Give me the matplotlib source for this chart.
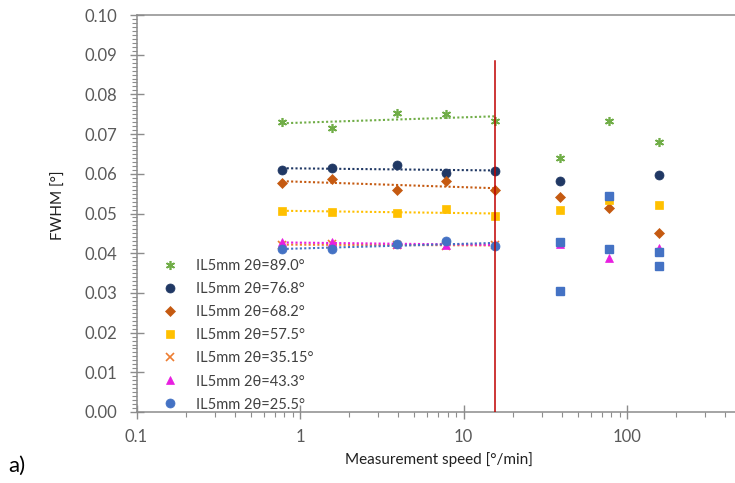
import matplotlib

matplotlib.use("Agg")
import matplotlib.pyplot as plt
import numpy as np
from matplotlib.ticker import FixedLocator, MultipleLocator, NullFormatter

plt.rcParams["font.family"] = ["Lato", "DejaVu Sans"]

# measurement speeds [deg/min]
speed_lo = [0.78, 1.56, 3.9, 7.8, 15.6]
speed_hi = [39, 78, 156]

# FWHM per peak, low speeds (with trend line) and high speeds
fw_890_lo = [0.0730, 0.0715, 0.0753, 0.0751, 0.0732]
fw_890_hi = [0.0641, 0.0732, 0.0681]
fw_768_lo = [0.0610, 0.0614, 0.0621, 0.0603, 0.0608]
fw_768_hi = [0.0581, np.nan, 0.0597]
fw_682_lo = [0.0577, 0.0587, 0.0558, 0.0582, 0.0558]
fw_682_hi = [0.0541, 0.0513, 0.0450]
fw_575_lo = [0.0507, 0.0503, 0.0502, 0.0511, 0.0494]
fw_575_hi = [0.0509, 0.0535, 0.0521]
fw_3515_lo = [0.0421, 0.0422, 0.0421, 0.0419, 0.0420]
fw_433_lo = [0.0427, 0.0427, 0.0423, 0.0420, 0.0423]
fw_433_hi = [0.0423, 0.0389, 0.0413]
fw_255_lo = [0.0410, 0.0410, 0.0423, 0.0431, 0.0418]
# blue squares at high speed (two per speed)
sq_a = [0.0429, 0.0544, 0.0404]
sq_b = [0.0305, 0.0411, 0.0369]

cutoff_speed = 15.6
cutoff_top = 0.0885

series = [
    ("IL5mm 2θ=89.0°", fw_890_lo, fw_890_hi, "#70AD47", (6, 2, 0), 6.5),
    ("IL5mm 2θ=76.8°", fw_768_lo, fw_768_hi, "#203864", "o", 6.5),
    ("IL5mm 2θ=68.2°", fw_682_lo, fw_682_hi, "#C55A11", "D", 5),
    ("IL5mm 2θ=57.5°", fw_575_lo, fw_575_hi, "#FFC000", "s", 6),
    ("IL5mm 2θ=35.15°", fw_3515_lo, None, "#ED7D31", "x", 5.5),
    ("IL5mm 2θ=43.3°", fw_433_lo, fw_433_hi, "#E81EE0", "^", 6),
    ("IL5mm 2θ=25.5°", fw_255_lo, None, "#4472C4", "o", 6.5),
]

fig = plt.figure(figsize=(7.35, 4.83), dpi=100)
ax = fig.add_axes([136.5 / 735, 71 / 483, 654 / 735, 397 / 483])

x_lo = np.array(speed_lo)
for label, lo, hi, col, mk, ms in series:
    lw = 1.2 if mk in ("x", (6, 2, 0)) else 0.5
    ax.plot(speed_lo, lo, ls="none", marker=mk, ms=ms, color=col, mew=lw, label=label, zorder=3)
    k, b = np.polyfit(np.log10(x_lo), lo, 1)
    ax.plot(x_lo, k * np.log10(x_lo) + b, ls=(0, (1, 1.1)), lw=1.5, color=col, zorder=2)
    if hi is not None:
        ax.plot(speed_hi, hi, ls="none", marker=mk, ms=ms, color=col, mew=lw, zorder=3)

ax.plot(speed_hi, sq_a, ls="none", marker="s", ms=6, color="#4472C4", zorder=4)
ax.plot(speed_hi, sq_b, ls="none", marker="s", ms=6, color="#4472C4", zorder=4)

ax.plot([cutoff_speed, cutoff_speed], [0, cutoff_top], color="#C00000", lw=1.1, zorder=5)

ax.set_xscale("log")
ax.set_xlim(0.1, 1000)
ax.set_ylim(0, 0.10)
ax.yaxis.set_major_locator(MultipleLocator(0.01))
ax.yaxis.set_minor_locator(MultipleLocator(0.001))
ax.yaxis.set_major_formatter(lambda v, p: f"{v:.2f}")
ax.xaxis.set_major_locator(FixedLocator([0.1, 1, 10, 100]))
ax.xaxis.set_major_formatter(lambda v, p: f"{v:g}")
ax.xaxis.set_minor_formatter(NullFormatter())

gray = "#8C8C8C"
for side in ("left", "bottom", "top"):
    ax.spines[side].set_color(gray)
    ax.spines[side].set_linewidth(1.1)
ax.spines["right"].set_visible(False)
ax.tick_params(which="major", direction="inout", length=10, width=1, color=gray,
               labelsize=12, labelcolor="#595959")
ax.tick_params(axis="y", which="major", pad=9)
ax.tick_params(which="minor", direction="out", length=3.5, width=0.8, color=gray)
ax.tick_params(axis="x", which="major", pad=7)

ax.set_ylabel("FWHM [°]", fontsize=11, color="#202020")
ax.yaxis.set_label_coords(-0.108, 0.52)
ax.set_xlabel("Measurement speed [°/min]", fontsize=11, color="#202020")
ax.xaxis.set_label_coords(0.4626, -0.1)

leg = ax.legend(loc="upper left", bbox_to_anchor=(155 / 735, 1 - 252 / 483), bbox_transform=fig.transFigure,
                frameon=False, fontsize=10.5, handlelength=1.0, handletextpad=1.3, labelspacing=0.62,
                borderpad=0)
for t in leg.get_texts():
    t.set_color("#404040")

fig.text(8 / 735, 1 - 466 / 483, "a)", fontsize=16, va="center", ha="left")

fig.savefig("out.png", dpi=100)
